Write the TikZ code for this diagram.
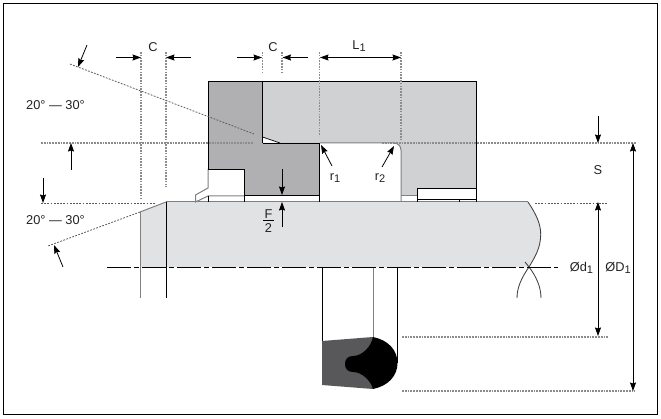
\documentclass[tikz,border=0pt]{standalone}
\usepackage{fontspec}
\setmainfont{Liberation Sans}
\usetikzlibrary{arrows.meta}
\definecolor{shaftfill}{HTML}{E1E2E4}
\definecolor{lightgrey}{HTML}{D0D1D3}
\definecolor{darkgrey}{HTML}{B0B0B3}
\definecolor{sealgrey}{HTML}{58585A}
\definecolor{midline}{HTML}{808080}
\definecolor{dotline}{HTML}{8C8C8C}
\definecolor{txt}{HTML}{222222}
\tikzset{
  x=1pt,y=-1pt,
  outline/.style={draw=black,line width=0.95pt,line join=miter},
  greyline/.style={draw=midline,line width=1pt},
  dimline/.style={draw=black,line width=0.8pt,-{Stealth[length=8.5pt,width=6pt,inset=1pt]}},
  dimboth/.style={draw=black,line width=0.8pt,{Stealth[length=8.5pt,width=6pt,inset=1pt]}-{Stealth[length=8.5pt,width=6pt,inset=1pt]}},
  dotgrey/.style={draw=dotline,line width=1.2pt,dash pattern=on 1.7pt off 1.1pt},
  dotdark/.style={draw=black!65,line width=0.8pt,dash pattern=on 1.8pt off 1.4pt},
  lbl/.style={inner sep=0pt,text=txt,font=\fontsize{12.8}{15}\selectfont},
}
\newcommand{\subd}[1]{\raisebox{-2pt}{\fontsize{11}{13}\selectfont #1}}
\begin{document}
\begin{tikzpicture}
\useasboundingbox (0,0) rectangle (661,419);
% frame
\draw[outline] (3.3,3.5) rectangle (657.6,414.6);
% shaft
\fill[shaftfill] (140,212) -- (166,202) -- (528,202) .. controls (536,214) and (541,224) .. (540.7,235) .. controls (540.5,248) and (535,257) .. (529,267) -- (140,267) -- cycle;
% light housing
\fill[lightgrey] (262.5,81.5) -- (476.5,81.5) -- (476.5,188) -- (417.5,188) -- (417.5,195.5) -- (401,195.5) -- (401,150) arc[start angle=0,end angle=-90,radius=7] -- (262.5,143) -- cycle;
% white wedge
\fill[white] (262.5,137) -- (280,143) -- (262.5,143) -- cycle;
% dark housing
\fill[darkgrey] (208.5,81.5) -- (262.5,81.5) -- (262.5,143) -- (319.5,143) -- (319.5,195.5) -- (244.5,195.5) -- (244.5,169) -- (208.5,169) -- cycle;
% grey contours
\draw[greyline] (319.5,143) -- (394,143) arc[start angle=-90,end angle=0,radius=7] -- (401,202);
\draw[greyline] (401,195.5) -- (417.5,195.5);
\draw[greyline] (208,169) -- (208,188) -- (195.5,195) -- (195.5,202) -- (208,196) -- (244.5,196);
\draw[greyline] (166,202) -- (528,202);
\draw[greyline] (140,212) -- (166,202);
\draw[greyline] (140,212) -- (140,298);
\draw[greyline] (373.5,267) -- (373.5,337);
% black contours
\draw[outline] (262.5,143) -- (262.5,81.5) -- (208.5,81.5) -- (208.5,169) -- (244.5,169) -- (244.5,202);
\draw[outline] (262.5,81.5) -- (476.5,81.5) -- (476.5,202);
\draw[outline] (262.5,143) -- (319.5,143) -- (319.5,202);
\draw[outline] (244.5,195.5) -- (319.5,195.5);
\draw[outline] (417.5,202) -- (417.5,188) -- (476.5,188);
\draw[outline] (417.5,199.5) -- (476.5,199.5);
\draw[outline] (459.5,199.5) -- (459.5,202);
\draw[outline] (208.5,196) -- (208.5,202);
\draw[draw=black,line width=0.7pt] (262.5,137) -- (280,143);
\draw[outline] (166.5,202) -- (166.5,298);
\draw[outline] (322.5,267) -- (322.5,341);
\draw[outline] (397.5,267) -- (397.5,363);
% shaft break
\draw[draw=black!75,line width=0.85pt] (528,202) .. controls (536,214) and (541,224) .. (540.7,235) .. controls (540.5,248) and (535,257) .. (529,267) .. controls (522,277) and (517,287) .. (517,298);
\draw[draw=black!75,line width=0.85pt] (525,262) -- (529,267) .. controls (536,276) and (541,287) .. (541,298);
% centre line
\draw[draw=black,line width=0.95pt,dash pattern=on 24pt off 3pt on 5pt off 3pt] (107,267) -- (558,267);
% seal
\fill[sealgrey] (322,341) -- (373,337) -- (373,389) -- (322,385) -- cycle;
\fill[black] (373,337) .. controls (388,340) and (397.5,350) .. (397.5,363) .. controls (397.5,376) and (388,386) .. (373,389) .. controls (371,381) and (362,372) .. (353,372) .. controls (348,372) and (345,369) .. (345,364) .. controls (345,359) and (348,356) .. (353,356) .. controls (362,356) and (371,347) .. (373,337) -- cycle;
% dotted lines
\draw[dotgrey] (41,143) -- (253,143);
\draw[dotgrey] (382,143) -- (636,143);
\draw[dotgrey] (141,52) -- (141,198);
\draw[dotgrey] (166,52) -- (166,187);
\draw[dotgrey] (262.5,52) -- (262.5,73);
\draw[dotgrey] (282,52) -- (282,73);
\draw[dotgrey] (319.5,52) -- (319.5,136);
\draw[dotgrey] (401,52) -- (401,140);
\draw[dotgrey] (402,337) -- (608,337);
\draw[dotgrey] (402,391) -- (635,391);
\draw[dotdark] (41,203) -- (155,203);
\draw[dotdark] (535,203) -- (608,203);
\draw[dotdark] (70,64) -- (254,134);
\draw[dotdark] (140,212) -- (48,246);
% dimension arrows
\draw[dimline] (116,57.5) -- (141,57.5);
\draw[dimline] (191,57.5) -- (166,57.5);
\draw[dimline] (237,57.5) -- (262,57.5);
\draw[dimline] (308,57.5) -- (282.5,57.5);
\draw[dimboth] (320,57.5) -- (401,57.5);
\draw[dimline] (87,45) -- (78,67);
\draw[dimline] (71,170) -- (71,143);
\draw[dimline] (43,178) -- (43,203);
\draw[dimline] (63,267) -- (54,245);
\draw[dimline] (282,169) -- (282,195);
\draw[dimline] (282,227) -- (282,202);
\draw[dimline] (332,166) -- (321,145);
\draw[dimline] (382,167) -- (394,146);
\draw[dimline] (598,116) -- (598,143);
\draw[dimboth] (598,202) -- (598,336);
\draw[dimboth] (633,143) -- (633,391);
% labels
\node[lbl] (c1) at (153,47) {C};
\node[lbl] (c2) at (273,47) {C};
\node[lbl] (l1) at (359,46.5) {L\subd{1}};
\node[lbl] (a1) at (55.5,105) {20° — 30°};
\node[lbl] (a2) at (55.5,220) {20° — 30°};
\node[lbl] (r1) at (335,178) {r\subd{1}};
\node[lbl] (r2) at (380,178) {r\subd{2}};
\node[lbl] (f) at (268.5,214) {F};
\draw[draw=black,line width=0.7pt] (263,220) -- (274,220);
\node[lbl] (two) at (268.5,228) {2};
\node[lbl] (s) at (598,170) {S};
\node[lbl] (d1) at (581.5,267.5) {Ød\subd{1}};
\node[lbl] (dd1) at (618,267.5) {ØD\subd{1}};
\end{tikzpicture}
\end{document}
